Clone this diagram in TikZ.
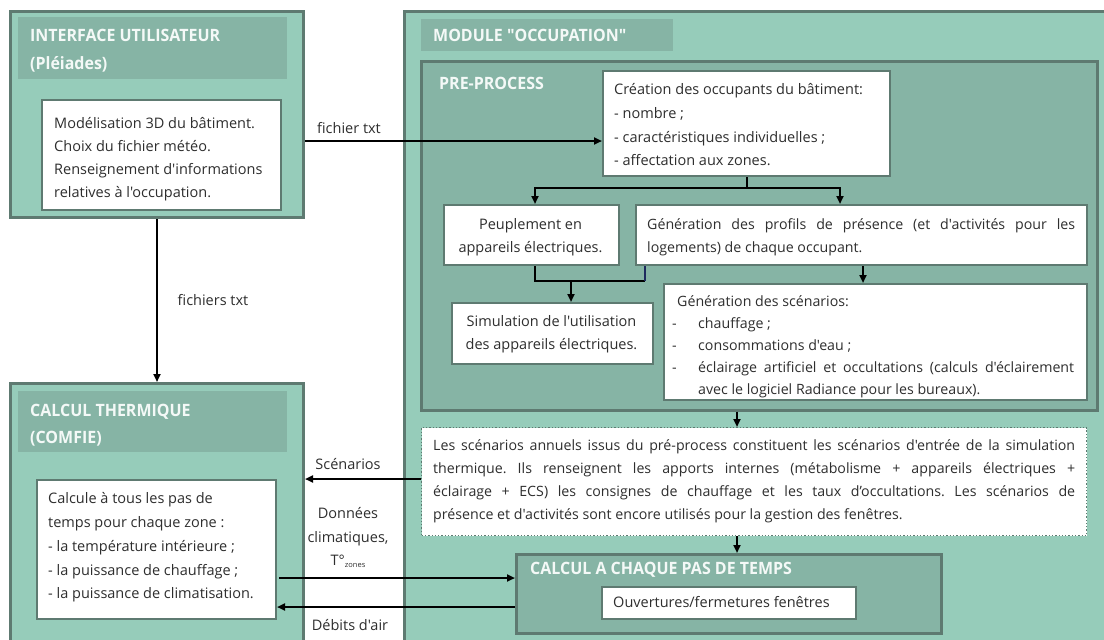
\documentclass[tikz,border=0pt]{standalone}
\usepackage{fontspec}
\setmainfont{Open Sans}
\newfontfamily\bodyfont{Open Sans}
\newfontfamily\titlefont{Open Sans}[FakeStretch=0.94]
\usetikzlibrary{arrows.meta,calc}
\definecolor{lightg}{HTML}{96CCBA}
\definecolor{midg}{HTML}{86B4A5}
\definecolor{bord}{HTML}{5E7A71}
\definecolor{txt}{HTML}{2E2E2E}
\definecolor{ttxt}{HTML}{F4F9F7}
\definecolor{navy}{HTML}{1E2A5E}
\newcommand\bx[6]{\node[#1, minimum width={(#5)-(#3)}, minimum height={(#6)-(#4)}] (#2) at (#3,#4) {};}
\begin{document}
\frenchspacing
\begin{tikzpicture}[x=1pt,y=-1pt,
 outerbox/.style={draw=bord, line width=3pt, fill=lightg, anchor=north west, inner sep=0pt},
 band/.style={fill=midg, anchor=north west, inner sep=0pt},
 procbox/.style={draw=bord, line width=2.5pt, fill=midg, anchor=north west, inner sep=0pt},
 wbox/.style={draw=bord, line width=2pt, fill=white, anchor=north west, inner sep=0pt},
 dbox/.style={draw=bord, line width=1.3pt, dotted, fill=white, anchor=north west, inner sep=0pt},
 tl/.style={anchor=base west, inner sep=0pt, text=txt, font=\bodyfont\frenchspacing\fontsize{14.5}{16}\selectfont},
 tj/.style={anchor=base west, inner sep=0pt, text=txt, font=\bodyfont\frenchspacing\fontsize{14.2}{16}\selectfont},
 tc/.style={anchor=base, inner sep=0pt, text=txt, font=\bodyfont\frenchspacing\fontsize{14.5}{16}\selectfont},
 ttl/.style={anchor=base west, inner sep=0pt, text=ttxt, font=\titlefont\bfseries\fontsize{17}{19}\selectfont},
 conn/.style={line width=2pt, black},
 arr/.style={conn, -{Triangle[length=8pt,width=7pt]}},
]
\clip (0,0) rectangle (1104,640);
\fill[white] (0,0) rectangle (1104,640);

% ---- Interface utilisateur
\bx{outerbox}{iface}{9}{10}{302}{216}
\bx{band}{ifband}{18}{17}{287}{79}
\node[ttl] (ift1) at (30,41) {INTERFACE UTILISATEUR};
\node[ttl] (ift2) at (30,69) {(Pléiades)};
\bx{wbox}{ifw}{41}{99}{280}{209}
\node[tl] (if1) at (54,128) {Modélisation 3D du bâtiment.};
\node[tl] (if2) at (54,151) {Choix du fichier météo.};
\node[tl] (if3) at (54,174) {Renseignement d'informations};
\node[tl] (if4) at (54,197) {relatives à l'occupation.};

% ---- Calcul thermique
\bx{outerbox}{calc}{9}{382}{302}{660}
\bx{band}{cband}{18}{391}{287}{452}
\node[ttl] (ct1) at (30,416) {CALCUL THERMIQUE};
\node[ttl] (ct2) at (30,443) {(COMFIE)};
\bx{wbox}{cw}{36}{479}{275}{618}
\node[tl] (c1) at (48,503) {Calcule à tous les pas de};
\node[tl] (c2) at (48,527) {temps pour chaque zone :};
\node[tl] (c3) at (48,551) {- la température intérieure ;};
\node[tl] (c4) at (48,575) {- la puissance de chauffage ;};
\node[tl] (c5) at (48,598) {- la puissance de climatisation.};

% ---- Module occupation
\bx{outerbox}{mod}{403}{10}{1115}{660}
\bx{band}{mband}{421}{19}{673}{51}
\node[ttl] (mt) at (433,41) {MODULE "OCCUPATION"};
\bx{procbox}{pre}{420}{60}{1096}{409}
\node[ttl] (pt) at (439,89) {PRE-PROCESS};

\bx{wbox}{crea}{602}{70}{889}{175}
\node[tl] (cr1) at (614,94) {Création des occupants du bâtiment:};
\node[tl] (cr2) at (614,118) {- nombre ;};
\node[tl] (cr3) at (614,142) {- caractéristiques individuelles ;};
\node[tl] (cr4) at (614,165) {- affectation aux zones.};

\bx{wbox}{peup}{443}{204}{618}{264}
\node[tc] (pe1) at (530.5,229) {Peuplement en};
\node[tc] (pe2) at (530.5,252) {appareils électriques.};

\bx{wbox}{gen}{635}{204}{1086}{264}
\node[tj] (g1) at (647,229) {\makebox[428pt][s]{Génération des profils de présence (et d'activités pour les}};
\node[tj] (g2) at (647,252) {logements) de chaque occupant.};

\bx{wbox}{sim}{451}{302}{652}{363}
\node[tc] (si1) at (551.5,326) {Simulation de l'utilisation};
\node[tc] (si2) at (551.5,349) {des appareils électriques.};

\bx{wbox}{scen}{663}{283}{1086}{399}
\node[tj] (s0) at (677,306) {Génération des scénarios:};
\node[tj] (sd1) at (672,328) {-};
\node[tj] (s1) at (698,328) {chauffage ;};
\node[tj] (sd2) at (672,350) {-};
\node[tj] (s2) at (698,350) {consommations d'eau ;};
\node[tj] (sd3) at (672,372) {-};
\node[tj] (s3) at (698,372) {\makebox[376pt][s]{éclairage artificiel et occultations (calculs d'éclairement}};
\node[tj] (s4) at (698,394) {avec le logiciel Radiance pour les bureaux).};

\bx{dbox}{dot}{421}{427}{1086}{535}
\node[tj] (d1) at (433,450) {\makebox[642pt][s]{Les scénarios annuels issus du pré-process constituent les scénarios d'entrée de la simulation}};
\node[tj] (d2) at (433,473) {\makebox[642pt][s]{thermique. Ils renseignent les apports internes (métabolisme + appareils électriques +}};
\node[tj] (d3) at (433,496) {\makebox[642pt][s]{éclairage + ECS) les consignes de chauffage et les taux d’occultations. Les scénarios de}};
\node[tj] (d4) at (433,519) {présence et d'activités sont encore utilisés pour la gestion des fenêtres.};

\bx{procbox}{cap}{515}{553}{940}{632}
\node[ttl] (capt) at (530,574) {CALCUL A CHAQUE PAS DE TEMPS};
\bx{wbox}{ouv}{601}{586}{855}{618}
\node[tl] (ou) at (613,607) {Ouvertures/fermetures fenêtres};

% ---- helper coordinates
\coordinate (y141) at (0,141);
\coordinate (bL) at (535,188);
\coordinate (bR) at (840,188);
\coordinate (xa) at (535,0);
\coordinate (xb) at (645,0);
\coordinate (jn) at (571,281);
\coordinate (xc) at (863,0);
\coordinate (xd) at (737,0);
\coordinate (ys) at (0,479);
\coordinate (yd) at (0,578);
\coordinate (yb) at (0,607);
\coordinate (xst) at (279,0);

% ---- connectors
\draw[arr] (iface.east |- y141) -- (crea.west |- y141);
\node[tc] (lf1) at (349,133) {fichier txt};
\draw[arr] (iface.south) -- (calc.north);
\node[tc] (lf2) at (213,305) {fichiers txt};

\draw[arr] (crea.south) -- (crea.south |- bL) -- (bL) -- (peup.north -| bL);
\draw[arr] (crea.south |- bR) -- (bR) -- (gen.north -| bR);

\draw[conn] (peup.south -| xa) |- (xb |- jn);
\draw[navy, line width=1.5pt] (xb |- jn) -- (gen.south -| xb);
\draw[arr] (jn) -- (sim.north -| jn);

\draw[arr] (gen.south -| xc) -- (scen.north -| xc);
\draw[arr] (pre.south -| xd) -- (dot.north -| xd);
\draw[arr] (dot.south -| xd) -- (cap.north -| xd);

\draw[arr] (dot.west |- ys) -- (calc.east |- ys);
\node[tc] (lsc) at (348,469) {Scénarios};
\draw[arr] (xst |- yd) -- (cap.west |- yd);
\node[tc] (ld1) at (348,518) {Données};
\node[tc] (ld2) at (348,542) {climatiques,};
\node[tc] (ld3) at (348,565) {T°{\fontsize{7.5}{8}\selectfont\raisebox{-2pt}{zones}}};
\draw[arr] (cap.west |- yb) -- (cw.east |- yb);
\node[tc] (ldb) at (350,630) {Débits d'air};
\end{tikzpicture}
\end{document}
